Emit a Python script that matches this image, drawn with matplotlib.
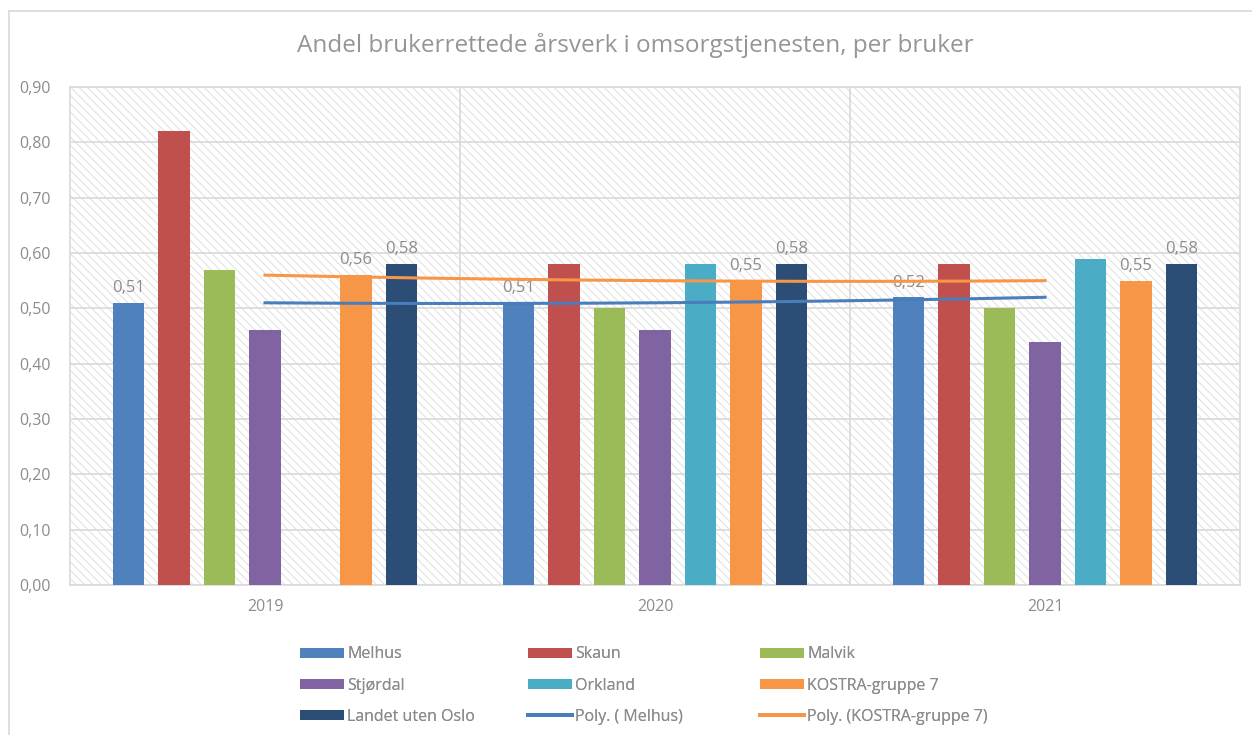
import numpy as np
import matplotlib
matplotlib.use("Agg")
import matplotlib.pyplot as plt
from matplotlib.lines import Line2D
from matplotlib.patches import Patch

# data
years = ["2019", "2020", "2021"]
series = ["Melhus", "Skaun", "Malvik", "Stjørdal", "Orkland", "KOSTRA-gruppe 7", "Landet uten Oslo"]
melhus = [0.51, 0.51, 0.52]
skaun = [0.82, 0.58, 0.58]
malvik = [0.57, 0.50, 0.50]
stjordal = [0.46, 0.46, 0.44]
orkland = [np.nan, 0.58, 0.59]
kostra = [0.56, 0.55, 0.55]
landet = [0.58, 0.58, 0.58]
labelled = ["Melhus", "KOSTRA-gruppe 7", "Landet uten Oslo"]
yticks = [0.0, 0.1, 0.2, 0.3, 0.4, 0.5, 0.6, 0.7, 0.8, 0.9]

colors = ["#4f81bd", "#c0504d", "#9bbb59", "#8064a2", "#4bacc6", "#f79646", "#2c4d75"]
values = [melhus, skaun, malvik, stjordal, orkland, kostra, landet]
grey = "#8c8c8c"
grid_c = "#d9d9d9"

plt.rcParams["font.family"] = ["Open Sans", "DejaVu Sans"]
plt.rcParams["hatch.linewidth"] = 0.8
plt.rcParams["hatch.color"] = "#e2e2e2"

fig = plt.figure(figsize=(12.52, 7.35), dpi=100)
ax = fig.add_axes([70 / 1252, 150 / 735, 1170 / 1252, 498 / 735])

# hatched background
ax.add_patch(plt.Rectangle((0, 0), 1, 1, transform=ax.transAxes, facecolor="white",
                           edgecolor="#e2e2e2", hatch="\\\\\\\\", linewidth=0, zorder=0))

x = np.arange(len(years))
step = 0.1167
width = 0.08
for i, (name, vals, c) in enumerate(zip(series, values, colors)):
    pos = x + (i - 3) * step
    ax.bar(pos, vals, width=width, color=c, zorder=3, label=name)
    if name in labelled:
        for px, v in zip(pos, vals):
            ax.text(px, v + 0.012, f"{v:.2f}".replace(".", ","), ha="center", va="bottom",
                    fontsize=12, color=grey, zorder=2)

# polynomial trendlines (order 2)
xs = np.linspace(0, 2, 200)
fit_m = np.polyval(np.polyfit(x, melhus, 2), xs)
fit_k = np.polyval(np.polyfit(x, kostra, 2), xs)
ax.plot(xs, fit_m, color="#4a7ebb", lw=2.2, zorder=4)
ax.plot(xs, fit_k, color="#f79646", lw=2.2, zorder=4)

ax.set_xlim(-0.5, 2.5)
ax.set_ylim(0, 0.9)
ax.set_yticks(yticks)
ax.set_yticklabels([f"{t:.2f}".replace(".", ",") for t in yticks])
ax.set_xticks(x)
ax.set_xticklabels(years)
ax.tick_params(axis="both", length=0, colors=grey, labelsize=11.5)
ax.tick_params(axis="y", pad=14)
ax.tick_params(axis="x", pad=10)
ax.grid(axis="y", color=grid_c, lw=1.2, zorder=1)
for b in [0.5, 1.5]:
    ax.axvline(b, color=grid_c, lw=1.2, zorder=1)
for s in ax.spines.values():
    s.set_color(grid_c)
    s.set_linewidth(1.2)

fig.text(635 / 1252, 1 - 45 / 735, "Andel brukerrettede årsverk i omsorgstjenesten, per bruker",
         ha="center", va="center", fontsize=17.5, color="#959595")

# chart border
fig.add_artist(Line2D([9 / 1252, 9 / 1252], [0, 1 - 11 / 735], transform=fig.transFigure, color=grid_c, lw=1.2))
fig.add_artist(Line2D([9 / 1252, 1], [1 - 11 / 735, 1 - 11 / 735], transform=fig.transFigure, color=grid_c, lw=1.2))

# legend: three columns placed separately, row-wise order as in the original
h = {n: Patch(facecolor=c) for n, c in zip(series, colors)}
h["Poly. ( Melhus)"] = Line2D([], [], color="#4a7ebb", lw=2.8)
h["Poly. (KOSTRA-gruppe 7)"] = Line2D([], [], color="#f79646", lw=2.8)
columns = [["Melhus", "Stjørdal", "Landet uten Oslo"],
           ["Skaun", "Orkland", "Poly. ( Melhus)"],
           ["Malvik", "KOSTRA-gruppe 7", "Poly. (KOSTRA-gruppe 7)"]]
col_x = [286, 514, 746]
for cx, names in zip(col_x, columns):
    leg = fig.legend([h[n] for n in names], names, ncol=1, loc="upper left",
                     bbox_to_anchor=(cx / 1252, 1 - 632 / 735), frameon=False,
                     fontsize=11.5, labelcolor=grey, handlelength=2.7, handleheight=0.6,
                     handletextpad=0.25, labelspacing=0.95)
    fig.add_artist(leg)

fig.savefig("out.png", dpi=100)
